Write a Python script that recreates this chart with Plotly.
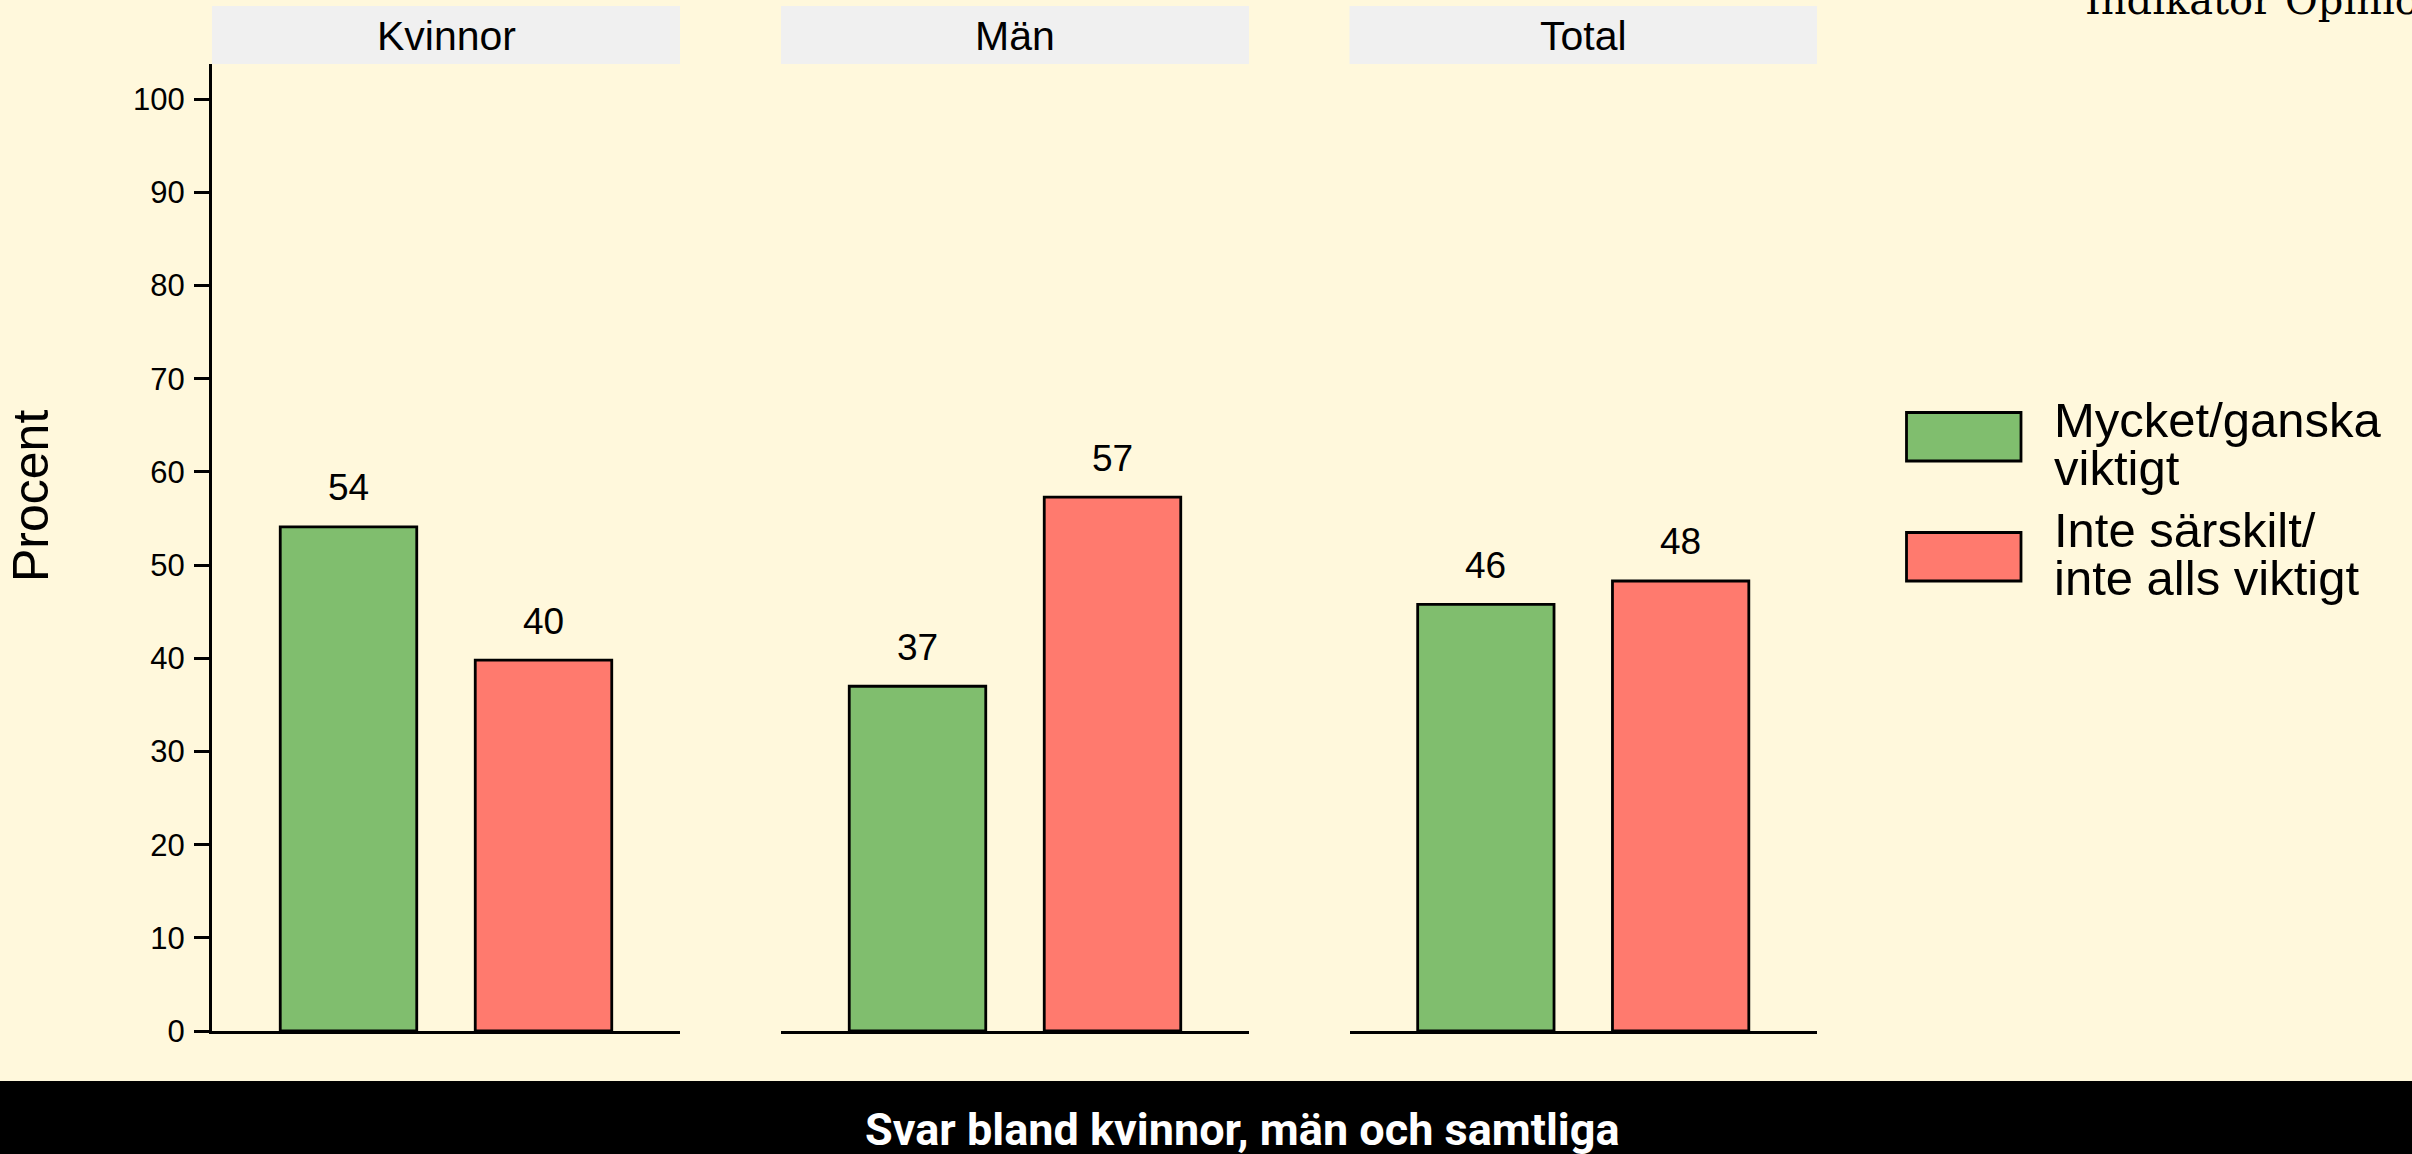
import plotly.graph_objects as go

W, H = 2412, 1154

# ---- data ----
panels = ["Kvinnor", "Män", "Total"]
responses = ["Mycket/ganska viktigt", "Inte särskilt/inte alls viktigt"]
legend_lines = [["Mycket/ganska", "viktigt"], ["Inte särskilt/", "inte alls viktigt"]]
important = [54.1, 37.0, 45.8]
not_important = [39.8, 57.3, 48.3]
y_ticks = [0, 10, 20, 30, 40, 50, 60, 70, 80, 90, 100]
y_title = "Procent"
caption = "Svar bland kvinnor, män och samtliga"
source = "Indikator Opinion"

# ---- styles ----
BG = "#FFF8DC"
GREEN = "#80BE6E"
RED = "#FF7A6E"
STRIP = "#F0F0F0"
FONT = "Liberation Sans"
colors = [GREEN, RED]

def px(x):
    return x / W

def py(y):
    return 1 - y / H

panel_px = [(212, 680), (781, 1249), (1349.5, 1817)]
plot_top, plot_bottom = 64, 1031
px_per_unit = 9.317
y_max = (plot_bottom - plot_top) / px_per_unit

fig = go.Figure()
layout = dict(
    width=W, height=H,
    margin=dict(l=0, r=0, t=0, b=0),
    paper_bgcolor=BG, plot_bgcolor=BG,
    showlegend=False,
    barmode="overlay",
    font=dict(family=FONT, color="black"),
)

annotations = []
shapes = []

for i, name in enumerate(panels):
    sfx = "" if i == 0 else str(i + 1)
    vals = [important[i], not_important[i]]
    fig.add_trace(go.Bar(
        x=responses, y=vals,
        width=0.7,
        marker=dict(color=colors, line=dict(color="black", width=2.8)),
        xaxis="x" + sfx, yaxis="y" + sfx,
        hoverinfo="skip",
    ))
    x0, x1 = panel_px[i]
    layout["xaxis" + sfx] = dict(
        domain=[px(x0), px(x1)], anchor="y" + sfx,
        type="category", categoryorder="array", categoryarray=responses,
        range=[-0.7, 1.7],
        showline=True, linecolor="black", linewidth=3,
        ticks="", showticklabels=False, showgrid=False, zeroline=False,
        automargin=False, fixedrange=True,
    )
    ya = dict(
        domain=[py(plot_bottom), py(plot_top)], anchor="x" + sfx,
        range=[0, y_max], showgrid=False, zeroline=False,
        automargin=False, fixedrange=True,
    )
    if i == 0:
        ya.update(showline=True, linecolor="black", linewidth=3,
                  ticks="outside", ticklen=15, tickwidth=3, tickcolor="black",
                  tickvals=y_ticks, ticktext=[str(t) for t in y_ticks],
                  tickfont=dict(size=31, color="black", family=FONT),
                  ticklabelstandoff=3)
    else:
        ya.update(showline=False, ticks="", showticklabels=False)
    layout["yaxis" + sfx] = ya

    # value labels
    for j, v in enumerate(vals):
        annotations.append(dict(
            x=responses[j], y=v, xref="x" + sfx, yref="y" + sfx,
            text=str(round(v)), showarrow=False,
            yanchor="middle", yshift=39,
            font=dict(size=37, color="black", family=FONT),
        ))

    # strip
    shapes.append(dict(type="rect", xref="paper", yref="paper",
                       x0=px(x0), x1=px(x1), y0=py(64), y1=py(6),
                       fillcolor=STRIP, line=dict(width=0), layer="below"))
    annotations.append(dict(
        x=px((x0 + x1) / 2), y=py(36), xref="paper", yref="paper",
        text=name, showarrow=False, xanchor="center", yanchor="middle",
        font=dict(size=41, color="black", family=FONT),
    ))

# y title
annotations.append(dict(
    x=px(31), y=py(496), xref="paper", yref="paper",
    text=y_title, textangle=-90, showarrow=False,
    xanchor="center", yanchor="middle",
    font=dict(size=50, color="black", family=FONT),
))

# legend (manual)
key_tops = [412.5, 532.5]
line_baselines = [[437.5, 485], [547, 595]]
LFS = 49
for k in range(2):
    shapes.append(dict(type="rect", xref="paper", yref="paper",
                       x0=px(1906.5), x1=px(2021),
                       y0=py(key_tops[k] + 48.5), y1=py(key_tops[k]),
                       fillcolor=colors[k], line=dict(color="black", width=2.8)))
    for ln, base in zip(legend_lines[k], line_baselines[k]):
        annotations.append(dict(
            x=px(2052), y=py(base - 0.347 * LFS), xref="paper", yref="paper",
            text=ln, showarrow=False, xanchor="left", yanchor="middle",
            font=dict(size=LFS, color="black", family=FONT),
        ))

# caption band
shapes.append(dict(type="rect", xref="paper", yref="paper",
                   x0=0, x1=1, y0=0, y1=py(1081),
                   fillcolor="black", line=dict(width=0)))
annotations.append(dict(
    x=px(1242), y=py(1129), xref="paper", yref="paper",
    text="<b>" + caption + "</b>", showarrow=False,
    xanchor="center", yanchor="middle",
    font=dict(size=45, color="white", family="Roboto"),
))

# source (clipped at top)
annotations.append(dict(
    x=px(2083), y=py(0), xref="paper", yref="paper",
    text=source, showarrow=False, xanchor="left", yanchor="middle",
    font=dict(size=40, color="black", family="DejaVu Serif"),
))

layout["annotations"] = annotations
layout["shapes"] = shapes
fig.update_layout(**layout)

fig.write_html(
    "out.html",
    config={"displayModeBar": False},
    post_script="document.body.style.margin='0';document.body.style.padding='0';"
                "document.body.style.overflow='hidden';",
)
